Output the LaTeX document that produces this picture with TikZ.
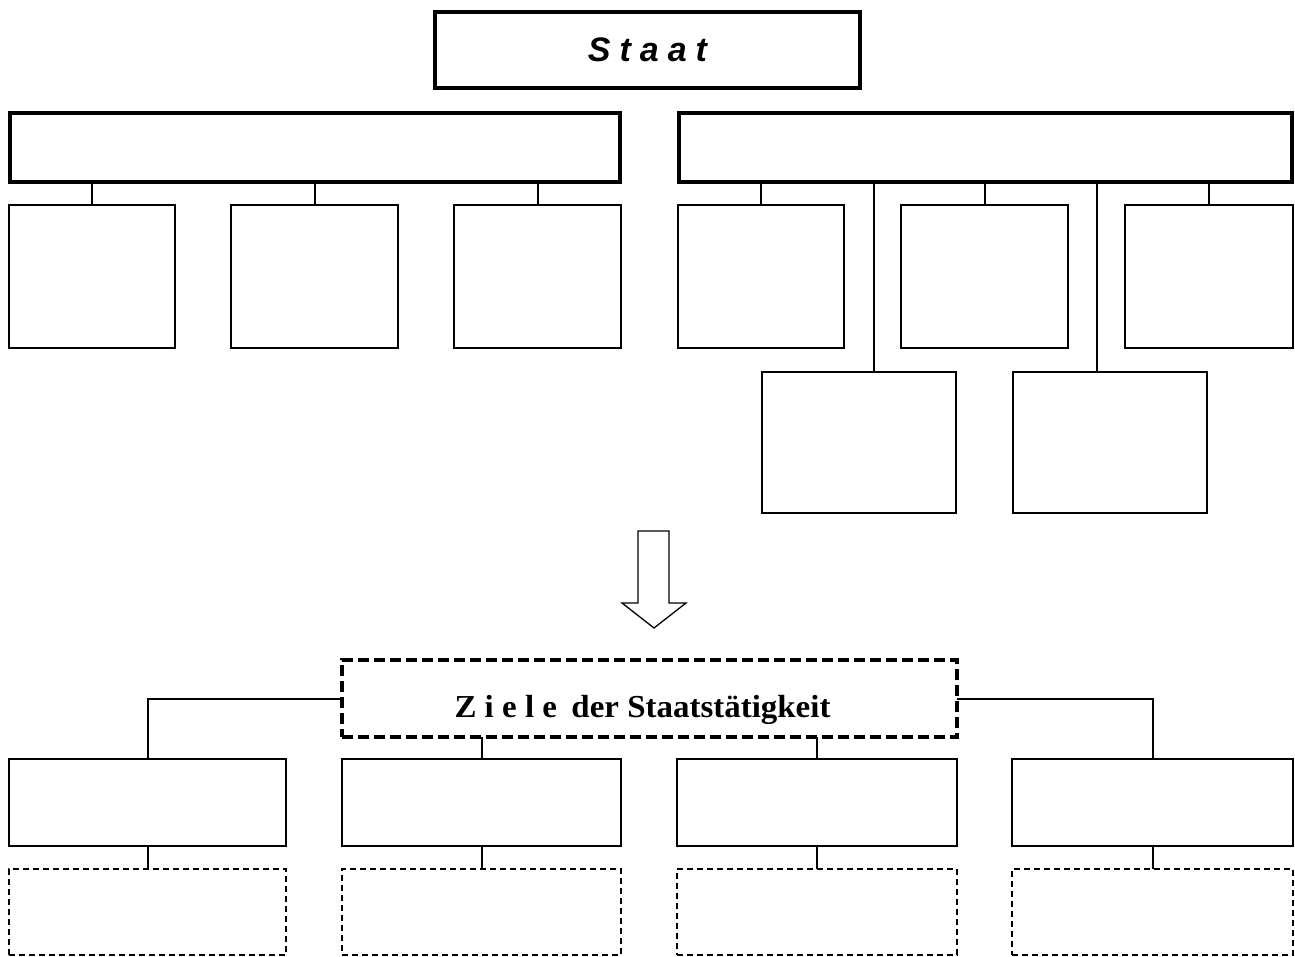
\documentclass[tikz,border=0pt]{standalone}
\usepackage{fontspec}
\setmainfont{Liberation Serif}
\newfontfamily\arialfont{Liberation Sans}
\begin{document}
\begin{tikzpicture}[x=1pt,y=-1pt,
  thickbox/.style={draw, line width=4.5pt, rectangle, inner sep=0pt, outer sep=0pt},
  thinbox/.style={draw, line width=2pt, rectangle, inner sep=0pt, outer sep=0pt},
  dashbox/.style={thinbox, dash pattern=on 6pt off 4pt},
  bigdash/.style={draw, line width=4pt, rectangle, inner sep=0pt, outer sep=0pt, dash pattern=on 11pt off 5pt},
  link/.style={line width=2pt}]
\useasboundingbox (0,0) rectangle (1295,957);
% top
\node[thickbox, line width=4pt, minimum width=425pt, minimum height=76pt] (staat) at (647.5,50)
  {\arialfont\fontsize{34}{40}\selectfont\bfseries\itshape S\hspace{9pt}t\hspace{9pt}a\hspace{9pt}a\hspace{9pt}t};
\node[thickbox, minimum width=610pt, minimum height=69pt] (bigL) at (315,147.5) {};
\node[thickbox, minimum width=613pt, minimum height=69pt] (bigR) at (985.5,147.5) {};
% left children
\node[thinbox, minimum width=166pt, minimum height=143pt] (L1) at (92,276.5) {};
\node[thinbox, minimum width=167pt, minimum height=143pt] (L2) at (314.5,276.5) {};
\node[thinbox, minimum width=167pt, minimum height=143pt] (L3) at (537.5,276.5) {};
% right children
\node[thinbox, minimum width=166pt, minimum height=143pt] (R1) at (761,276.5) {};
\node[thinbox, minimum width=167pt, minimum height=143pt] (R2) at (984.5,276.5) {};
\node[thinbox, minimum width=168pt, minimum height=143pt] (R3) at (1209,276.5) {};
\node[thinbox, minimum width=194pt, minimum height=141pt] (R4) at (859,442.5) {};
\node[thinbox, minimum width=194pt, minimum height=141pt] (R5) at (1110,442.5) {};
\foreach \c in {L1,L2,L3} \draw[link] (\c.north) -- (\c.north |- bigL.south);
\foreach \c in {R1,R2,R3} \draw[link] (\c.north) -- (\c.north |- bigR.south);
\draw[link] ([xshift=15pt]R4.north) -- ([xshift=15pt]R4.north |- bigR.south);
\draw[link] ([xshift=-13pt]R5.north) -- ([xshift=-13pt]R5.north |- bigR.south);
% arrow
\draw[line width=1.3pt, line join=miter] (638,531) -- (669,531) -- (669,603) -- (686,603) -- (654,628) -- (622,603) -- (638,603) -- cycle;
% bottom
\node[bigdash, minimum width=615pt, minimum height=77pt] (ziele) at (649.5,698.5) {};
\node[inner sep=0pt, anchor=base] (zieletext) at (642.5,717)
  {\fontsize{32}{38}\selectfont\bfseries\scalebox{1.03}[1]{Z\hspace{8pt}i\hspace{8pt}e\hspace{8pt}l\hspace{8pt}e\hspace{14pt}der Staatstätigkeit}};
\node[thinbox, minimum width=277pt, minimum height=87pt] (B1) at (147.5,802.5) {};
\node[thinbox, minimum width=279pt, minimum height=87pt] (B2) at (481.5,802.5) {};
\node[thinbox, minimum width=280pt, minimum height=87pt] (B3) at (817,802.5) {};
\node[thinbox, minimum width=281pt, minimum height=87pt] (B4) at (1152.5,802.5) {};
\node[dashbox, minimum width=277pt, minimum height=86pt] (D1) at (147.5,912) {};
\node[dashbox, minimum width=279pt, minimum height=86pt] (D2) at (481.5,912) {};
\node[dashbox, minimum width=280pt, minimum height=86pt] (D3) at (817,912) {};
\node[dashbox, minimum width=281pt, minimum height=86pt] (D4) at (1152.5,912) {};
\draw[link] (ziele.west) -| (B1.north);
\draw[link] (ziele.east) -| (B4.north);
\draw[link] (B2.north) -- (B2.north |- ziele.south);
\draw[link] (B3.north) -- (B3.north |- ziele.south);
\foreach \i in {1,2,3,4} \draw[link] (B\i.south) -- (D\i.north);
\end{tikzpicture}
\end{document}
